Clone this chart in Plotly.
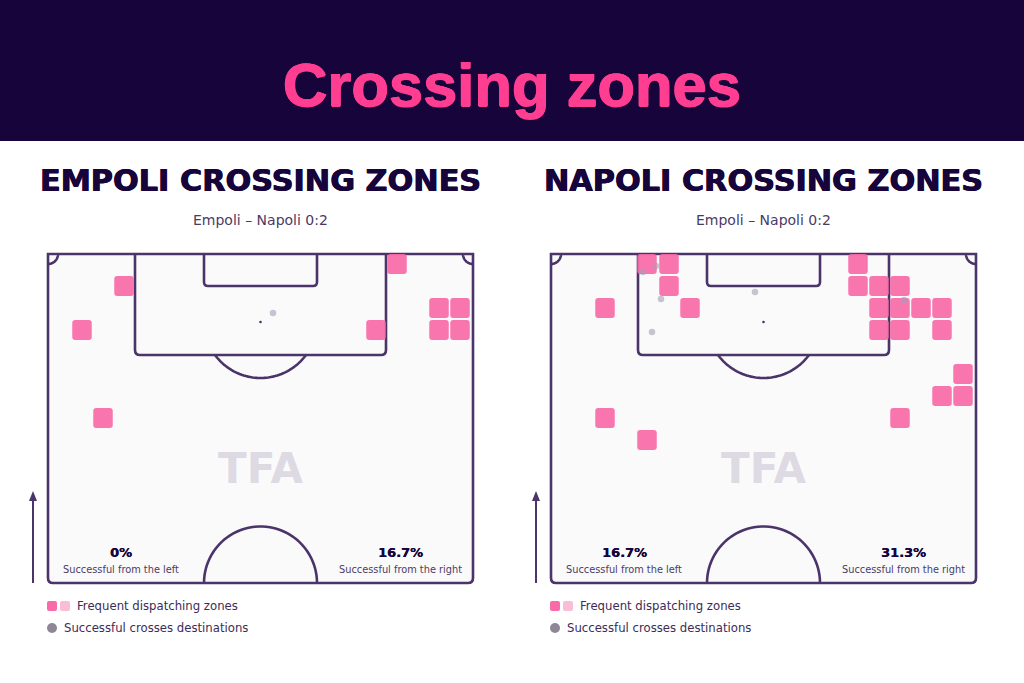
import numpy as np
import plotly.graph_objects as go

W, H = 1024, 683
DARK = "#17043B"; PINK = "#FF3E92"; LINE = "#4B3469"; ZONE = "#F96AA8"; FONT = "DejaVu Sans"

empoli_zone_x = [76, 34, 55, 328, 349, 391, 412, 391, 412]
empoli_zone_y = [32, 76, 164, 76, 10, 54, 54, 76, 76]
empoli_dest_x = [225]
empoli_dest_y = [59]
napoli_zone_x = [96, 118, 118, 54, 139, 307, 307, 328, 349, 328, 349, 370, 391, 328, 349, 391, 412, 391, 412, 54, 349, 96]
napoli_zone_y = [10, 10, 32, 54, 54, 10, 32, 32, 32, 54, 54, 54, 54, 76, 76, 76, 120, 142, 142, 164, 164, 186]
napoli_dest_x = [204, 110, 101, 92, 105, 353]
napoli_dest_y = [38, 45, 78, 18, 12, 46]
team_titles = ["EMPOLI CROSSING ZONES", "NAPOLI CROSSING ZONES"]
title_centers = [260, 763]
match_label = "Empoli – Napoli 0:2"
left_rates = ["0%", "16.7%"]
right_rates = ["16.7%", "31.3%"]
PITCH_LEFTS = [48, 551]
PITCH_W, PITCH_H, PITCH_TOP = 425, 329, 254
PAD = 4
ZONE_W, ZONE_H = 19.5, 20

fig = go.Figure()
shapes, notes = [], []

def px(x): return x / W
def py(y): return 1 - y / H

def text(x, y, s, size, color=DARK, weight=400, anchor="center", font=FONT, shadow=None):
    f = dict(size=size, color=color, family=font, weight=weight)
    if shadow:
        f["shadow"] = shadow
    notes.append(dict(x=px(x), y=py(y), xref="paper", yref="paper", text=s, showarrow=False,
                      xanchor=anchor, yanchor="middle", align=anchor, font=f))

def arc(cx, cy, r, a0, a1, n=48):
    t = np.radians(np.linspace(a0, a1, n))
    pts = zip(cx + r * np.cos(t), cy + r * np.sin(t))
    return "M " + " L ".join(f"{a:.2f},{b:.2f}" for a, b in pts)

def rrect(x0, y0, s, r=2):
    return (f"M {px(x0+r)},{py(y0)} L {px(x0+s-r)},{py(y0)} Q {px(x0+s)},{py(y0)} {px(x0+s)},{py(y0+r)} "
            f"L {px(x0+s)},{py(y0+s-r)} Q {px(x0+s)},{py(y0+s)} {px(x0+s-r)},{py(y0+s)} "
            f"L {px(x0+r)},{py(y0+s)} Q {px(x0)},{py(y0+s)} {px(x0)},{py(y0+s-r)} "
            f"L {px(x0)},{py(y0+r)} Q {px(x0)},{py(y0)} {px(x0+r)},{py(y0)} Z")

shapes.append(dict(type="rect", xref="paper", yref="paper", x0=0, x1=1, y0=py(141), y1=1,
                   fillcolor=DARK, line_width=0, layer="below"))
text(512, 84, "Crossing zones", 61.5, PINK, 700, font="Liberation Sans",
     shadow="0.7px 0 0 #FF3E92, -0.7px 0 0 #FF3E92, 0 0.5px 0 #FF3E92, 0 -0.5px 0 #FF3E92")

for i, (zx, zy, dx, dy) in enumerate([(empoli_zone_x, empoli_zone_y, empoli_dest_x, empoli_dest_y),
                                      (napoli_zone_x, napoli_zone_y, napoli_dest_x, napoli_dest_y)]):
    left = PITCH_LEFTS[i]
    xa = "x" if i == 0 else "x2"
    ya = "y" if i == 0 else "y2"
    suffix = "" if i == 0 else "2"
    fig.update_layout({
        f"xaxis{suffix}": dict(domain=[px(left - PAD), px(left + PITCH_W + PAD)], range=[-PAD, PITCH_W + PAD],
                               visible=False, fixedrange=True),
        f"yaxis{suffix}": dict(domain=[py(PITCH_TOP + PITCH_H + PAD), py(PITCH_TOP - PAD)], range=[PITCH_H + PAD, -PAD],
                               visible=False, fixedrange=True),
    })
    base = dict(xref=xa, yref=ya, layer="below")
    ln = dict(color=LINE, width=2.6)
    w, h = PITCH_W, PITCH_H
    outline = f"M 0,0 L {w},0 L {w},{h-5} Q {w},{h} {w-5},{h} L 5,{h} Q 0,{h} 0,{h-5} Z"
    shapes.append(dict(type="path", path=outline, fillcolor="#FAFAFB", line=ln, **base))
    for path in [
        "M 87,0 L 87,96 Q 87,101 92,101 L 333,101 Q 338,101 338,96 L 338,0",
        "M 156,0 L 156,28 Q 156,32 160,32 L 265,32 Q 269,32 269,28 L 269,0",
        arc(212.5, 67.5, 56.5, 36, 144),
        arc(212.5, 329, 56.5, 180, 360),
        arc(0, 0, 10, 0, 90),
        arc(425, 0, 10, 90, 180),
    ]:
        shapes.append(dict(type="path", path=path, line=ln, **base))
    shapes.append(dict(type="circle", x0=211.2, x1=213.8, y0=66.7, y1=69.3, fillcolor=LINE, line_width=0, **base))

    fig.add_trace(go.Bar(x=zx, y=[ZONE_H] * len(zy), base=[v - ZONE_H / 2 for v in zy], width=ZONE_W,
                         marker=dict(color=ZONE, cornerradius=3, line_width=0), opacity=0.92,
                         xaxis=xa, yaxis=ya, showlegend=False, hoverinfo="skip"))
    fig.add_trace(go.Scatter(x=dx, y=dy, mode="markers", xaxis=xa, yaxis=ya, showlegend=False, hoverinfo="skip",
                             marker=dict(size=6.5, color="rgba(165,158,185,0.6)", line=dict(width=0))))

    cx = left + 212.5
    text(title_centers[i], 180, team_titles[i], 30.3, DARK, 800, shadow="0.5px 0 0 #17043B, -0.5px 0 0 #17043B")
    text(cx - 0.5, 220, match_label, 14, "#4B3A66")
    text(left + 73, 552, left_rates[i], 13, DARK, 700, shadow="0.3px 0 0 #17043B")
    text(left + 352, 552, right_rates[i], 13, DARK, 700, shadow="0.3px 0 0 #17043B")
    text(left + 73, 569, "Successful from the left", 9.8, "#4B3A66")
    text(left + 352, 569, "Successful from the right", 9.8, "#4B3A66")
    text(left + 213, 468, "TFA", 42, "#DDDAE3", 800)

    # direction arrow
    ax = left - 15
    shapes.append(dict(type="line", xref="paper", yref="paper", x0=px(ax), x1=px(ax), y0=py(583), y1=py(498),
                       line=dict(color=LINE, width=2)))
    shapes.append(dict(type="path", xref="paper", yref="paper", fillcolor=LINE, line_width=0,
                       path=f"M {px(ax)},{py(491)} L {px(ax+4)},{py(501)} L {px(ax-4)},{py(501)} Z"))
    # key
    for x0, col in [(left - 1, "#F96AA8"), (left + 12, "#F9BDD6")]:
        shapes.append(dict(type="path", xref="paper", yref="paper", fillcolor=col, line_width=0, path=rrect(x0, 601, 10)))
    shapes.append(dict(type="circle", xref="paper", yref="paper", x0=px(left - 1), x1=px(left + 9),
                       y0=py(623), y1=py(633), fillcolor="#8F8799", line_width=0))
    text(left + 27, 606, "Frequent dispatching zones", 11.7, "#3D2C58", anchor="left")
    text(left + 14, 628, "Successful crosses destinations", 11.7, "#3D2C58", anchor="left")

fig.update_layout(width=W, height=H, margin=dict(l=0, r=0, t=0, b=0), paper_bgcolor="white",
                  plot_bgcolor="rgba(0,0,0,0)", barmode="overlay", shapes=shapes, annotations=notes)
fig.write_html("out.html", config=dict(displayModeBar=False),
               post_script="document.body.style.margin='0';document.documentElement.style.overflow='hidden';")
